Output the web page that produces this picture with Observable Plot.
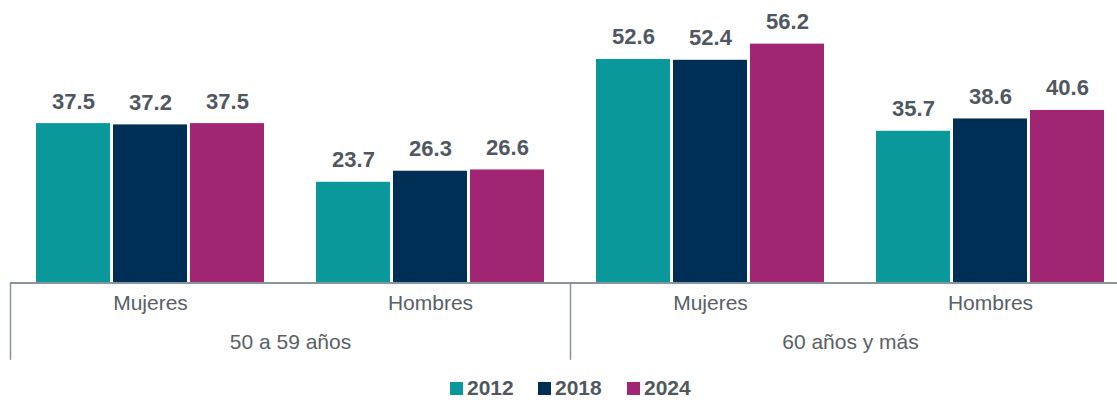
<!DOCTYPE html>
<html>
<head>
<meta charset="utf-8">
<script src="https://cdn.jsdelivr.net/npm/d3@7"></script>
<script src="https://cdn.jsdelivr.net/npm/@observablehq/plot@0.6"></script>
<style>
  html, body { margin: 0; padding: 0; background: #fff; overflow: hidden; width: 1117px; }
  #chart svg { display: block; }
  .legend { position: relative; height: 18px; margin-top: 7px; font-family: "Liberation Sans", Arial, sans-serif; }
  .legend .item { position: absolute; top: 0; height: 18px; display: flex; align-items: center; font-weight: bold; font-size: 21px; line-height: 18px; color: #4f5861; }
  .legend .sw { width: 13px; height: 13px; margin-right: 4px; }
</style>
</head>
<body>
<div id="chart"></div>
<script>
const ageGroups = ["50 a 59 años", "60 años y más"];
const sexes = ["Mujeres", "Hombres"];
const years = ["2012", "2018", "2024"];
const colors = ["#0a989b", "#002f56", "#a02572"];
// [2012, 2018, 2024] for each age group / sex
const values_50_59_Mujeres = [37.5, 37.2, 37.5];
const values_50_59_Hombres = [23.7, 26.3, 26.6];
const values_60_Mujeres = [52.6, 52.4, 56.2];
const values_60_Hombres = [35.7, 38.6, 40.6];

const seriesByGroup = [
  [values_50_59_Mujeres, values_50_59_Hombres],
  [values_60_Mujeres, values_60_Hombres]
];

const keys = [];
const data = [];
const facetsInfo = [];
ageGroups.forEach((g, gi) => {
  sexes.forEach((s, si) => {
    const key = g + "|" + s;
    keys.push(key);
    facetsInfo.push({key, age: g, sex: s, first: si === 0, last: si === sexes.length - 1});
    years.forEach((y, yi) => {
      data.push({key, age: g, sex: s, year: y, value: seriesByGroup[gi][si][yi]});
    });
  });
});

const textColor = "#4f5861";
const labelColor = "#595f66";
const font = "Liberation Sans, Arial, sans-serif";

const H = 372;
const plot = Plot.plot({
  width: 1117,
  height: H,
  marginLeft: 10,
  marginRight: -13,
  marginTop: 27.5,
  marginBottom: H - 282.5,
  style: {fontFamily: font, background: "#fff"},
  fx: {domain: keys, padding: 0, axis: null},
  x: {domain: years, paddingInner: 0.04, paddingOuter: 0.318, axis: null},
  y: {domain: [0, 60], axis: null},
  color: {domain: years, range: colors},
  marks: [
    Plot.barY(data, {fx: "key", x: "year", y: "value", fill: "year", inset: 0}),
    Plot.text(data, {fx: "key", x: "year", y: "value", text: d => d.value.toFixed(1), dy: -22, fontSize: 22, fontWeight: "bold", fill: textColor}),
    Plot.ruleY([0], {stroke: "#8a949e", strokeWidth: 2}),
    Plot.text(facetsInfo, {fx: "key", text: "sex", frameAnchor: "bottom", dy: 27, fontSize: 21, fill: labelColor}),
    Plot.text(facetsInfo.filter(d => d.last), {fx: "key", text: "age", frameAnchor: "bottom", dy: 66, dx: -140, fontSize: 21, fill: labelColor}),
    Plot.ruleX(facetsInfo.filter(d => d.first), {fx: "key", x: null, y1: 0, y2: -18.2, dx: -140, stroke: "#8a949e", strokeWidth: 1.5})
  ]
});
document.getElementById("chart").appendChild(plot);

const legend = document.createElement("div");
legend.className = "legend";
const legendX = [450, 538, 627];
years.forEach((y, i) => {
  const item = document.createElement("div");
  item.className = "item";
  item.style.left = legendX[i] + "px";
  const sw = document.createElement("span");
  sw.className = "sw";
  sw.style.background = colors[i];
  item.appendChild(sw);
  item.appendChild(document.createTextNode(y));
  legend.appendChild(item);
});
document.body.appendChild(legend);
</script>
</body>
</html>
